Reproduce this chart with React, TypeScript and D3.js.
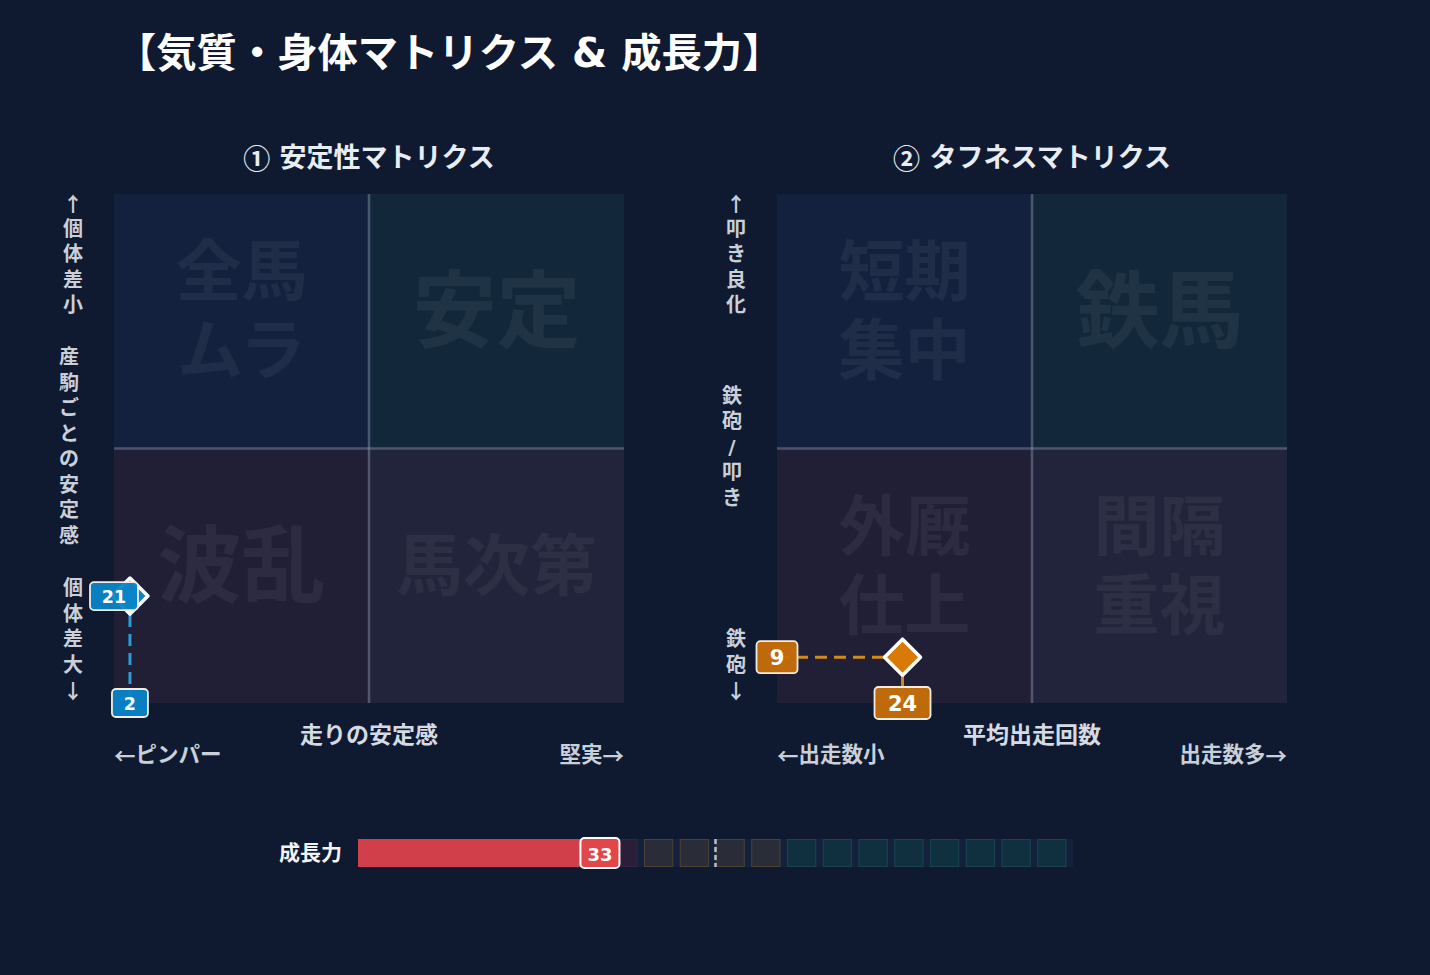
import React from "react";
import * as d3 from "d3";

const W = 1430;
const H = 975;
const FONT = '"DejaVu Sans", "Noto Sans CJK JP", sans-serif';
const CJK = '"Noto Sans CJK JP", sans-serif';

const mainTitle = "【気質・身体マトリクス & 成長力】";
const matrixTitles = ["① 安定性マトリクス", "② タフネスマトリクス"];
const stabilityQuadrants = ["全馬\nムラ", "安定", "波乱", "馬次第"];
const toughnessQuadrants = ["短期\n集中", "鉄馬", "外厩\n仕上", "間隔\n重視"];
const stabilityYLabels = ["↑個体差小", "産駒ごとの安定感", "個体差大↓"];
const toughnessYLabels = ["↑叩き良化", "鉄砲/叩き", "鉄砲↓"];
const stabilityXLabels = ["←ピンパー", "走りの安定感", "堅実→"];
const toughnessXLabels = ["←出走数小", "平均出走回数", "出走数多→"];
const stabilityPoint = [2, 21];
const toughnessPoint = [24, 9];
const growthLabel = "成長力";
const growthValue = 33;
const growthAverage = 50;
const growthSteps = [0, 5, 10, 15, 20, 25, 30, 35, 40, 45, 50, 55, 60, 65, 70, 75, 80, 85, 90, 95];
const growthZones = [40, 60];

const quadFills = ["#13213f", "#12283a", "#211f36", "#21243a"];

const SYMBOLS = "←↑→↓①②";

function rich(text: string) {
  const parts: { s: string; sym: boolean }[] = [];
  for (const c of Array.from(text)) {
    const sym = SYMBOLS.includes(c);
    const last = parts[parts.length - 1];
    if (last && last.sym === sym) last.s += c;
    else parts.push({ s: c, sym });
  }
  return parts.map((p, i) =>
    p.sym ? (
      <tspan key={i} fontFamily={CJK}>
        {p.s}
      </tspan>
    ) : (
      <tspan key={i}>{p.s}</tspan>
    )
  );
}

type Theme = {
  diamond: string;
  box: string;
  line: string;
  font: number;
  digitW: number;
  pad: number;
  boxH: number;
};

const blueTheme: Theme = { diamond: "#0a84c8", box: "#0a84c8", line: "#2f9bd6", font: 17.5, digitW: 12, pad: 12, boxH: 28 };
const orangeTheme: Theme = { diamond: "#d97a06", box: "#c86f0a", line: "#d08a1c", font: 21, digitW: 15, pad: 13, boxH: 32 };

function ValueBox({ cx, cy, text, theme }: { cx: number; cy: number; text: string; theme: Theme }) {
  const w = text.length * theme.digitW + theme.pad * 2;
  const h = theme.boxH;
  return (
    <g>
      <rect x={cx - w / 2} y={cy - h / 2} width={w} height={h} rx={4} fill={theme.box} fillOpacity={0.95} stroke="#f3ece2" strokeWidth={1.8} />
      <text x={cx} y={cy + 1} textAnchor="middle" dominantBaseline="central" fill="#ffffff" fontWeight={700} fontSize={theme.font} fontFamily={FONT}>
        {text}
      </text>
    </g>
  );
}

function VerticalLabel({ x, chars, y, anchor }: { x: number; chars: string; y: number; anchor: "top" | "middle" | "bottom" }) {
  const step = 25.5;
  const arr = Array.from(chars);
  const n = arr.length;
  let first = y;
  if (anchor === "middle") first = y - ((n - 1) * step) / 2;
  if (anchor === "bottom") first = y - (n - 1) * step;
  return (
    <g>
      {arr.map((c, i) => (
        <text key={i} x={x} y={first + i * step} textAnchor="middle" dominantBaseline="central" fill="#c9d0da" fontWeight={700} fontSize={20} fontFamily={SYMBOLS.includes(c) ? CJK : FONT}>
          {c}
        </text>
      ))}
    </g>
  );
}

function Matrix({ x0, title, quads, yLabels, xLabels, point, theme }: any) {
  const size = 510;
  const y0 = 194;
  const y1 = 703;
  const x = d3.scaleLinear().domain([0, 100]).range([x0 + 6, x0 + size - 6]);
  const y = d3.scaleLinear().domain([0, 100]).range([y1, y0]);
  const halfW = size / 2;
  const halfH = (y1 - y0) / 2;
  const xm = x0 + halfW;
  const ym = y0 + halfH;
  const origins = [
    [x0, y0],
    [xm, y0],
    [x0, ym],
    [xm, ym],
  ];
  const px = x(point[0]);
  const py = y(point[1]);
  const r = 18;
  return (
    <g>
      <text x={xm} y={157} textAnchor="middle" dominantBaseline="central" fill="#e8edf3" fontWeight={700} fontSize={27} fontFamily={FONT}>
        {rich(title)}
      </text>
      {origins.map(([qx, qy], i) => (
        <rect key={i} x={qx} y={qy} width={halfW} height={halfH} fill={quadFills[i]} />
      ))}
      {quads.map((label: string, i: number) => {
        const lines = label.split("\n");
        const fs = lines.length > 1 ? 66 : label.length > 2 ? 67 : 84;
        const cx = origins[i][0] + halfW / 2;
        const cy = origins[i][1] + halfH / 2 - 9;
        const lh = 79;
        return (
          <g key={i}>
            {lines.map((ln, j) => (
              <text key={j} x={cx} y={cy + (j - (lines.length - 1) / 2) * lh} textAnchor="middle" dominantBaseline="central" fill="#ffffff" fillOpacity={0.055} fontWeight={700} fontSize={fs} fontFamily={FONT}>
                {ln}
              </text>
            ))}
          </g>
        );
      })}
      <line x1={xm} x2={xm} y1={y0} y2={y1} stroke="#9aa8c0" strokeOpacity={0.4} strokeWidth={2.5} />
      <line x1={x0} x2={x0 + size} y1={ym} y2={ym} stroke="#9aa0c0" strokeOpacity={0.4} strokeWidth={2.5} />

      <VerticalLabel x={x0 - 41} chars={yLabels[0]} y={y0 + 9} anchor="top" />
      <VerticalLabel x={x0 - 45} chars={yLabels[1]} y={ym - 2} anchor="middle" />
      <VerticalLabel x={x0 - 41} chars={yLabels[2]} y={y1 - 13} anchor="bottom" />

      <text x={x0} y={754} textAnchor="start" dominantBaseline="central" fill="#c9d0da" fontWeight={700} fontSize={21.5} fontFamily={FONT}>
        {rich(xLabels[0])}
      </text>
      <text x={xm} y={735} textAnchor="middle" dominantBaseline="central" fill="#d5dbe4" fontWeight={700} fontSize={23} fontFamily={FONT}>
        {rich(xLabels[1])}
      </text>
      <text x={x0 + size} y={754} textAnchor="end" dominantBaseline="central" fill="#c9d0da" fontWeight={700} fontSize={21.5} fontFamily={FONT}>
        {rich(xLabels[2])}
      </text>

      <line x1={x0} x2={px} y1={py} y2={py} stroke={theme.line} strokeWidth={3} strokeDasharray="12,7" />
      <line x1={px} x2={px} y1={py} y2={y1} stroke={theme.line} strokeWidth={3} strokeDasharray="12,7" />
      <path d={`M${px},${py - r}L${px + r},${py}L${px},${py + r}L${px - r},${py}Z`} fill={theme.diamond} stroke="#ffffff" strokeWidth={3.5} strokeLinejoin="round" />
      <ValueBox cx={x0} cy={py} text={String(point[1])} theme={theme} />
      <ValueBox cx={px} cy={y1} text={String(point[0])} theme={theme} />
    </g>
  );
}

function GrowthBar() {
  const gx = d3.scaleLinear().domain([0, 100]).range([358, 1073]);
  const top = 839;
  const h = 28;
  const cellW = gx(5) - gx(0) - 7.5;
  const cy = top + h / 2;
  const zoneStyle = (s: number) => {
    if (s < growthZones[0]) return { fill: "#2a1f38", stroke: "#3a2340" };
    if (s < growthZones[1]) return { fill: "#2a2c38", stroke: "#4a4232" };
    return { fill: "#11303f", stroke: "#18444f" };
  };
  const vx = gx(growthValue);
  return (
    <g>
      <text x={342} y={cy} textAnchor="end" dominantBaseline="central" fill="#f2f4f7" fontWeight={700} fontSize={21} fontFamily={FONT}>
        {growthLabel}
      </text>
      <rect x={gx(0)} y={top} width={gx(100) - gx(0)} height={h} fill="#14213d" />
      {growthSteps.map((s) => {
        const st = zoneStyle(s);
        return <rect key={s} x={gx(s) + 0.5} y={top + 0.5} width={cellW} height={h - 1} fill={st.fill} stroke={st.stroke} strokeWidth={1} />;
      })}
      <rect x={gx(0)} y={top} width={vx - gx(0)} height={h} fill="#d1404a" />
      <line x1={gx(growthAverage)} x2={gx(growthAverage)} y1={top} y2={top + h} stroke="#b7bec9" strokeWidth={2.5} strokeDasharray="5,3" />
      <rect x={vx + 6 - 19.5} y={cy - 15} width={39} height={30} rx={4} fill="#e2454a" stroke="#ffffff" strokeWidth={2} />
      <text x={vx + 6} y={cy + 1} textAnchor="middle" dominantBaseline="central" fill="#ffffff" fontWeight={700} fontSize={18} fontFamily={FONT}>
        {growthValue}
      </text>
    </g>
  );
}

export default function App() {
  return (
    <svg width={W} height={H} style={{ position: "absolute", left: 0, top: 0, display: "block" }}>
      <rect x={0} y={0} width={W} height={H} fill="#0f1a30" />
      <text x={116} y={53} textAnchor="start" dominantBaseline="central" fill="#ffffff" fontWeight={700} fontSize={40.3} fontFamily={FONT}>
        {mainTitle}
      </text>
      <Matrix x0={114} title={matrixTitles[0]} quads={stabilityQuadrants} yLabels={stabilityYLabels} xLabels={stabilityXLabels} point={stabilityPoint} theme={blueTheme} />
      <Matrix x0={777} title={matrixTitles[1]} quads={toughnessQuadrants} yLabels={toughnessYLabels} xLabels={toughnessXLabels} point={toughnessPoint} theme={orangeTheme} />
      <GrowthBar />
    </svg>
  );
}
